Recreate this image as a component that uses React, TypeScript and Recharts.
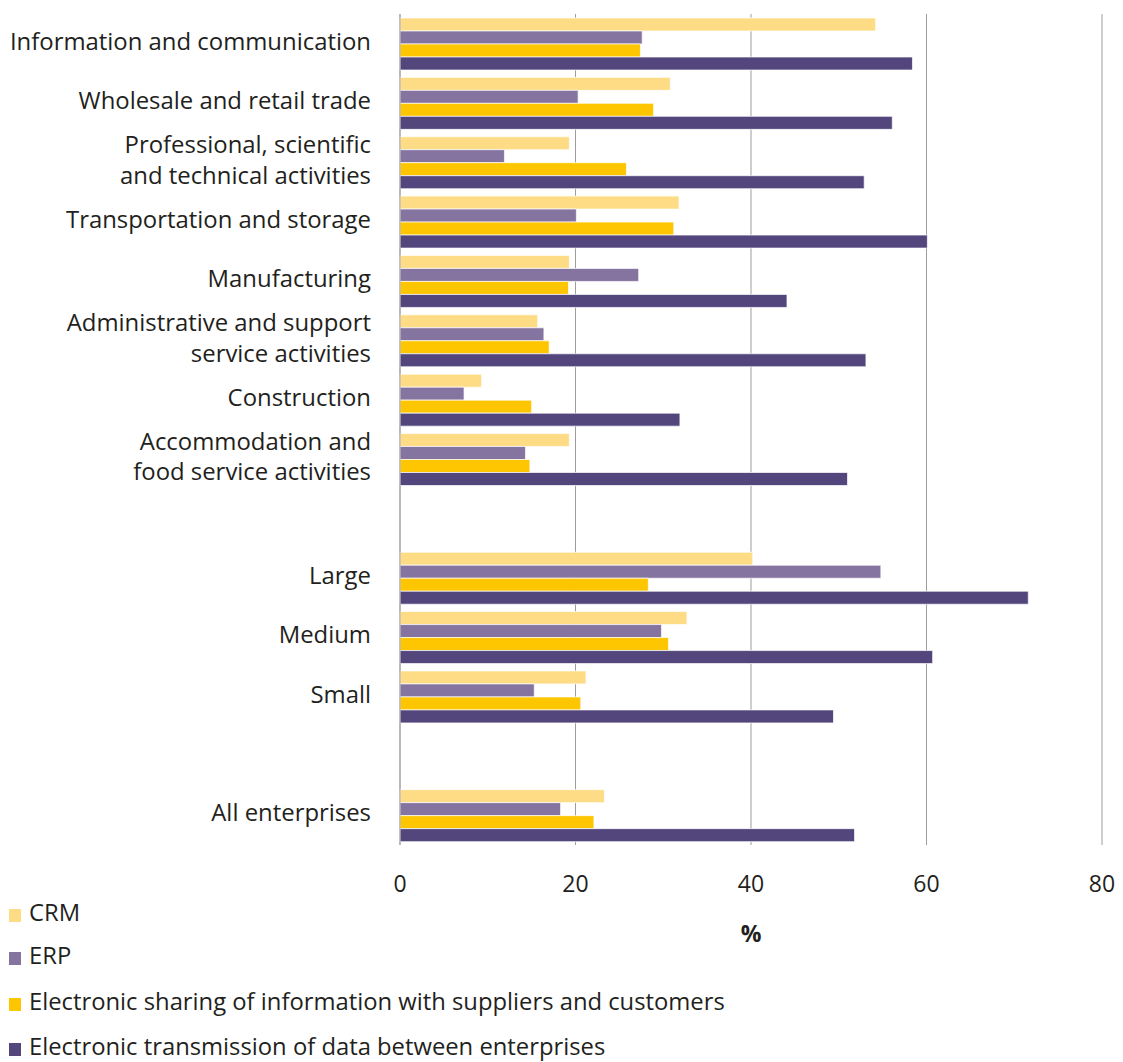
import React from "react";
import { BarChart, Bar, XAxis, YAxis, CartesianGrid, Label } from "recharts";

// Category labels (line breaks marked with \n); empty strings are spacer rows
const categories: string[] = [
  "Information and communication",
  "Wholesale and retail trade",
  "Professional, scientific\nand technical activities",
  "Transportation and storage",
  "Manufacturing",
  "Administrative and support\nservice activities",
  "Construction",
  "Accommodation and\nfood service activities",
  "",
  "Large",
  "Medium",
  "Small",
  "",
  "All enterprises",
];

// Share of enterprises (%) per category
const crm: (number | null)[] = [54.2, 30.8, 19.3, 31.8, 19.3, 15.7, 9.3, 19.3, null, 40.2, 32.7, 21.2, null, 23.3];
const erp: (number | null)[] = [27.6, 20.3, 11.9, 20.1, 27.2, 16.4, 7.3, 14.3, null, 54.8, 29.8, 15.3, null, 18.3];
const sharing: (number | null)[] = [27.4, 28.9, 25.8, 31.2, 19.2, 17.0, 15.0, 14.8, null, 28.3, 30.6, 20.6, null, 22.1];
const transmission: (number | null)[] = [58.4, 56.1, 52.9, 60.1, 44.1, 53.1, 31.9, 51.0, null, 71.6, 60.7, 49.4, null, 51.8];

const xTicks: number[] = [0, 20, 40, 60, 80];

const seriesNames = [
  "CRM",
  "ERP",
  "Electronic sharing of information with suppliers and customers",
  "Electronic transmission of data between enterprises",
];
const seriesColors = ["#FEDC85", "#8574A0", "#FDC600", "#52467D"];

const data = categories.map((name, i) => ({
  key: `row${i}`,
  name,
  crm: crm[i],
  erp: erp[i],
  sharing: sharing[i],
  transmission: transmission[i],
}));

const FONT = "'Open Sans', sans-serif";
const TEXT = "#231f20";
const LABEL_SIZE = 23.9;

const CategoryTick = (props: any) => {
  const { x, y, payload } = props;
  const row = data.find((d) => d.key === payload.value);
  const label = row ? row.name : "";
  if (!label) return null;
  const lines = label.split("\n");
  const lh = 30.5;
  const first = y + 6 - ((lines.length - 1) * lh) / 2;
  return (
    <text x={x - 21} y={first} textAnchor="end" fill={TEXT} fontFamily={FONT} fontSize={LABEL_SIZE}>
      {lines.map((ln, i) => (
        <tspan key={i} x={x - 21} y={first + i * lh}>
          {ln}
        </tspan>
      ))}
    </text>
  );
};

const ValueTick = (props: any) => {
  const { x, y, payload } = props;
  return (
    <text x={x} y={y + 39} textAnchor="middle" fill={TEXT} fontFamily={FONT} fontSize={23}>
      {payload.value}
    </text>
  );
};

const legendTops = [912, 955, 1001, 1046];

export default function App() {
  return (
    <div style={{ position: "absolute", left: 0, top: 0, width: 1123, height: 1062, background: "#fff" }}>
      <BarChart
        width={1123}
        height={1062}
        data={data}
        layout="vertical"
        margin={{ top: 14, right: 21, left: 0, bottom: 157 }}
        barCategoryGap={4}
        barGap={0}
      >
        <CartesianGrid horizontal={false} stroke="#9d9d9d" strokeWidth={1} />
        <XAxis
          type="number"
          domain={[0, 80]}
          ticks={xTicks}
          axisLine={false}
          tickLine={false}
          height={60}
          tick={<ValueTick />}
          interval={0}
        >
          <Label
            position="insideTop"
            offset={81}
            value="%"
            fill={TEXT}
            fontFamily={FONT}
            fontSize={23}
            fontWeight="bold"
          />
        </XAxis>
        <YAxis
          type="category"
          dataKey="key"
          width={400}
          axisLine={{ stroke: "#a3a3a3" }}
          tickLine={false}
          tick={<CategoryTick />}
          interval={0}
        />
        <Bar dataKey="crm" name={seriesNames[0]} fill={seriesColors[0]} stroke="#ffffff" strokeWidth={0.7} isAnimationActive={false} />
        <Bar dataKey="erp" name={seriesNames[1]} fill={seriesColors[1]} stroke="#ffffff" strokeWidth={0.7} isAnimationActive={false} />
        <Bar dataKey="sharing" name={seriesNames[2]} fill={seriesColors[2]} stroke="#ffffff" strokeWidth={0.7} isAnimationActive={false} />
        <Bar dataKey="transmission" name={seriesNames[3]} fill={seriesColors[3]} stroke="#ffffff" strokeWidth={0.7} isAnimationActive={false} />
      </BarChart>
      {seriesNames.map((n, i) => (
        <div
          key={n}
          style={{
            position: "absolute",
            left: 9,
            top: legendTops[i] - 16,
            height: 32,
            lineHeight: "32px",
            fontFamily: FONT,
            fontSize: 23.8,
            color: TEXT,
            whiteSpace: "nowrap",
          }}
        >
          <span
            style={{
              display: "inline-block",
              width: 12,
              height: 13,
              background: seriesColors[i],
              marginRight: 8,
              verticalAlign: "-1px",
            }}
          />
          {n}
        </div>
      ))}
    </div>
  );
}
